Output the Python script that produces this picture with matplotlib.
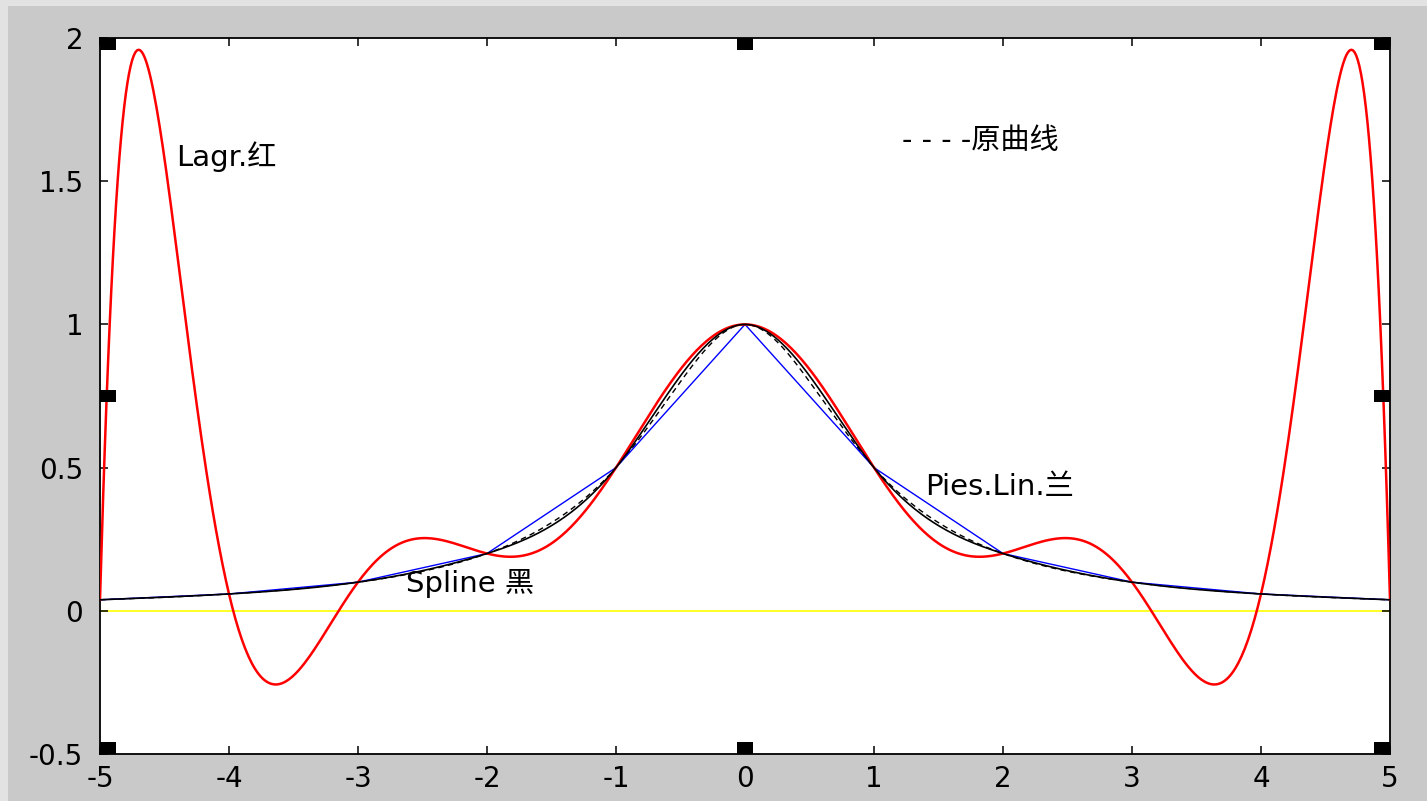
"""
Runge example: Lagrange vs piecewise linear vs cubic spline interpolation
on 11 equally spaced nodes over [-5, 5].
"""

import numpy as np
import matplotlib
matplotlib.use('Agg')
import matplotlib.pyplot as plt
from matplotlib.patches import Rectangle

plt.rcParams['font.family'] = ['DejaVu Sans', 'Noto Sans CJK SC']

# interpolation nodes
x_nodes = [-5, -4, -3, -2, -1, 0, 1, 2, 3, 4, 5]
y_nodes = [0.0385, 0.0588, 0.1, 0.2, 0.5, 1.0, 0.5, 0.2, 0.1, 0.0588, 0.0385]

# original curve, sampled every 0.5
x_orig = [-5, -4.5, -4, -3.5, -3, -2.5, -2, -1.5, -1, -0.5, 0,
          0.5, 1, 1.5, 2, 2.5, 3, 3.5, 4, 4.5, 5]
y_orig = [0.0385, 0.0471, 0.0588, 0.0755, 0.1, 0.1379, 0.2, 0.3077, 0.5, 0.8, 1.0,
          0.8, 0.5, 0.3077, 0.2, 0.1379, 0.1, 0.0755, 0.0588, 0.0471, 0.0385]

x_ticks = [-5, -4, -3, -2, -1, 0, 1, 2, 3, 4, 5]
y_ticks = [-0.5, 0, 0.5, 1, 1.5, 2]
y_tick_labels = ['-0.5', '0', '0.5', '1', '1.5', '2']


def natural_spline(xk, yk, xs):
    """Natural cubic spline through (xk, yk), evaluated at xs."""
    xk = np.asarray(xk, float)
    yk = np.asarray(yk, float)
    n = len(xk)
    h = np.diff(xk)
    A = np.zeros((n, n))
    b = np.zeros(n)
    A[0, 0] = A[-1, -1] = 1.0
    for i in range(1, n - 1):
        A[i, i - 1] = h[i - 1]
        A[i, i] = 2 * (h[i - 1] + h[i])
        A[i, i + 1] = h[i]
        b[i] = 6 * ((yk[i + 1] - yk[i]) / h[i] - (yk[i] - yk[i - 1]) / h[i - 1])
    M = np.linalg.solve(A, b)
    idx = np.clip(np.searchsorted(xk, xs) - 1, 0, n - 2)
    x0, x1 = xk[idx], xk[idx + 1]
    hh = x1 - x0
    t0, t1 = x1 - xs, xs - x0
    return (M[idx] * t0 ** 3 / (6 * hh) + M[idx + 1] * t1 ** 3 / (6 * hh)
            + (yk[idx] / hh - M[idx] * hh / 6) * t0
            + (yk[idx + 1] / hh - M[idx + 1] * hh / 6) * t1)


xs = np.linspace(-5, 5, 801)
lagr = np.polynomial.Polynomial.fit(x_nodes, y_nodes, len(x_nodes) - 1)(xs)
spl = natural_spline(x_nodes, y_nodes, xs)
orig = natural_spline(x_orig, y_orig, xs)

fig = plt.figure(figsize=(14.27, 8.01), dpi=100)
fig.patch.set_facecolor('#e2e2e2')
fig.add_artist(Rectangle((8 / 1427, 0), 1, 795 / 801, transform=fig.transFigure,
                         facecolor='#c9c9c9', edgecolor='none', zorder=0))

ax = fig.add_axes([100 / 1427, 47 / 801, 1290 / 1427, 716 / 801])
ax.set_facecolor('white')

ax.axhline(0, color='#ffff00', lw=1.2, zorder=1)
ax.plot(xs, orig, color='black', lw=1.0, ls=(0, (4, 3)), zorder=2)
ax.plot(x_nodes, y_nodes, color='blue', lw=1.0, zorder=3)
ax.plot(xs, lagr, color='red', lw=1.8, zorder=4)
ax.plot(xs, spl, color='black', lw=1.2, zorder=5)

ax.set_xlim(-5, 5)
ax.set_ylim(-0.5, 2)
ax.set_xticks(x_ticks)
ax.set_xticklabels([str(v) for v in x_ticks])
ax.set_yticks(y_ticks)
ax.set_yticklabels(y_tick_labels)
ax.tick_params(direction='in', length=6, width=1.1, top=True, right=True,
               labelsize=20, colors='black')
ax.tick_params(axis='x', pad=8)
ax.tick_params(axis='y', pad=12)
for s in ax.spines.values():
    s.set_linewidth(1.3)
    s.set_color('black')

ax.text(-4.41, 1.585, 'Lagr.红', fontsize=21, va='center', ha='left')
ax.text(1.22, 1.64, '- - - -原曲线', fontsize=21, va='center', ha='left')
ax.text(-2.63, 0.095, 'Spline 黑', fontsize=21, va='center', ha='left')
ax.text(1.40, 0.433, 'Pies.Lin.兰', fontsize=21, va='center', ha='left')

# selection handles (plot edit mode)
hw, hh = 16 / 1290, 12 / 716
for hx, hy in [(0, 0), (0.5 - hw / 2, 0), (1 - hw, 0),
               (0, 0.5 - hh / 2), (1 - hw, 0.5 - hh / 2),
               (0, 1 - hh), (0.5 - hw / 2, 1 - hh), (1 - hw, 1 - hh)]:
    ax.add_patch(Rectangle((hx, hy), hw, hh, transform=ax.transAxes,
                           facecolor='black', edgecolor='none', zorder=10,
                           clip_on=False))

fig.savefig('out.png', dpi=100)
